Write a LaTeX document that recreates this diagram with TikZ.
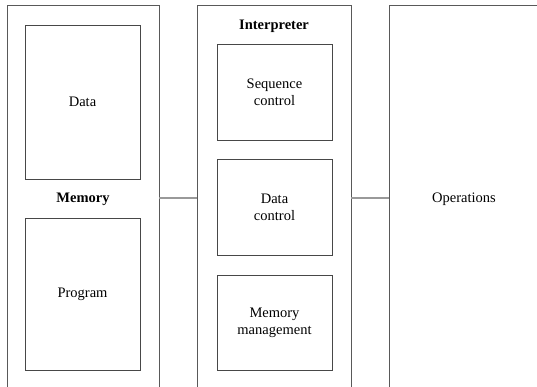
\documentclass[tikz,border=0pt]{standalone}
\usepackage{fontspec}
\setmainfont{Liberation Serif}
\begin{document}
\begin{tikzpicture}[x=1pt,y=1pt,
  outerbox/.style={draw=none,inner sep=0pt,outer sep=0pt,anchor=north west},
  outerline/.style={draw=black!65,line width=1pt},
  innerbox/.style={draw=black!72,line width=0.9pt,inner sep=0pt,outer sep=0pt,anchor=north west,
     font=\fontsize{14.5}{17}\selectfont,align=center},
  lbl/.style={font=\fontsize{14.5}{17}\selectfont,inner sep=0pt},
  blbl/.style={font=\fontsize{14.5}{17}\selectfont\bfseries,inner sep=0pt},
  link/.style={draw=black!40,line width=1.2pt}]
\useasboundingbox (0,0) rectangle (537,387);
% outer boxes (open at the bottom)
\node[outerbox,minimum width=152pt,minimum height=381pt] (mem) at (7,381) {};
\node[outerbox,minimum width=154pt,minimum height=381pt] (interp) at (197,381) {};
\node[outerbox,minimum width=160pt,minimum height=381pt] (ops) at (389,381) {};
\draw[outerline] (mem.south west) -- (mem.north west) -- (mem.north east) -- (mem.south east);
\draw[outerline] (interp.south west) -- (interp.north west) -- (interp.north east) -- (interp.south east);
\draw[outerline] (ops.south west) -- (ops.north west) -- (ops.north east);
% memory
\node[innerbox,minimum width=115pt,minimum height=154pt] (data) at (25,362) {Data};
\node[blbl] (memlbl) at (83,188) {Memory};
\node[innerbox,minimum width=115pt,minimum height=152pt] (prog) at (25,169) {Program};
% interpreter
\node[blbl] (interplbl) at (274,361) {Interpreter};
\node[innerbox,minimum width=115pt,minimum height=96pt] (seq) at (217,343) {Sequence\\control};
\node[innerbox,minimum width=115pt,minimum height=96pt] (dctl) at (217,228) {Data\\control};
\node[innerbox,minimum width=115pt,minimum height=95pt] (mmgt) at (217,112) {Memory\\management};
% operations
\node[lbl] (opslbl) at (464,188) {Operations};
% connectors
\coordinate (y0) at (0,189);
\draw[link] (mem.east |- y0) -- (interp.west |- y0);
\draw[link] (interp.east |- y0) -- (ops.west |- y0);
\end{tikzpicture}
\end{document}
